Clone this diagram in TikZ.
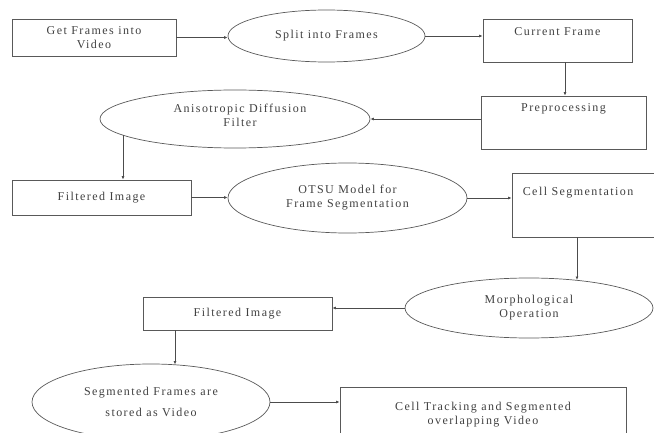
\documentclass[tikz,border=0pt]{standalone}
\usepackage{fontspec}
\setmainfont{Liberation Serif}[LetterSpace=12]
\usepackage{tikz}
\usetikzlibrary{shapes.geometric}
\usetikzlibrary{arrows.meta}
\usetikzlibrary{calc}

\begin{document}
\begin{tikzpicture}[x=1pt,y=-1pt,
  font=\fontsize{12}{14}\selectfont,
  every node/.style={text=black!75},
  box/.style={draw=black!65,line width=0.8pt,rectangle,inner sep=0pt,align=center},
  oval/.style={draw=black!65,line width=0.7pt,ellipse,inner sep=0pt,align=center},
  arr/.style={draw=black!70,line width=0.8pt,-{Latex[length=3.5pt,width=3pt]}}]
\useasboundingbox (0,0) rectangle (654,433);
\clip (0,0) rectangle (654,433);

\node[box,minimum width=164pt,minimum height=37pt] (get) at (94,37.5) {Get Frames into\\Video};
\node[oval,minimum width=197pt,minimum height=52pt] (split) at (326.5,36) {Split into Frames};
\node[box,minimum width=149pt,minimum height=43pt,
  label={[anchor=north,inner sep=0pt,yshift=-9pt]north:Current Frame}] (cur) at (557.5,40.5) {};
\node[box,minimum width=165pt,minimum height=53pt,
  label={[anchor=north,inner sep=0pt,yshift=-8pt]north:Preprocessing}] (pre) at (563.5,122.5) {};
\node[oval,minimum width=270pt,minimum height=58pt] (ani) at (235,119) {};
\node[align=center,inner sep=0pt] (anitxt) at (240,115.5) {Anisotropic Diffusion\\Filter};
\node[box,minimum width=179pt,minimum height=35pt] (filt1) at (101.5,197.5) {Filtered Image};
\node[oval,minimum width=239pt,minimum height=70pt] (otsu) at (347.5,198) {OTSU Model for\\Frame Segmentation};
\node[box,minimum width=160pt,minimum height=64pt,
  label={[anchor=north west,inner sep=0pt,xshift=11pt,yshift=-14pt]north west:Cell Segmentation}] (cell) at (592,205) {};
\node[oval,minimum width=248pt,minimum height=60pt] (morph) at (529,308) {Morphological\\Operation};
\node[box,minimum width=189pt,minimum height=33pt] (filt2) at (237.5,313.5) {Filtered Image};
\node[oval,minimum width=238pt,minimum height=76pt] (seg) at (151,402) {Segmented Frames are\\[7pt]stored as Video};
\node[box,minimum width=286pt,minimum height=70pt,
  label={[anchor=north,inner sep=0pt,yshift=-15pt,align=center]north:{Cell Tracking and Segmented\\overlapping Video}}] (track) at (483,422) {};

\coordinate (anibot) at (123,135);
\coordinate (morphtop) at (577,280);
\coordinate (segtop) at (175,364.5);

\draw[arr] (get.east) -- (get.east -| split.west);
\draw[arr] (split.east) -- (split.east -| cur.west);
\draw[arr] ([xshift=7.5pt]cur.south) -- ([xshift=7.5pt]cur.south |- pre.north);
\draw[arr] (pre.west |- ani.east) -- (ani.east);
\draw[arr] (anibot) -- (anibot |- filt1.north);
\draw[arr] (filt1.east) -- (filt1.east -| otsu.west);
\draw[arr] (otsu.east) -- (otsu.east -| cell.west);
\draw[arr] (cell.south -| morphtop) -- (morphtop);
\draw[arr] (morph.west) -- (morph.west -| filt2.east);
\draw[arr] (filt2.south -| segtop) -- (segtop);
\draw[arr] (seg.east) -- (seg.east -| track.west);
\end{tikzpicture}
\end{document}
